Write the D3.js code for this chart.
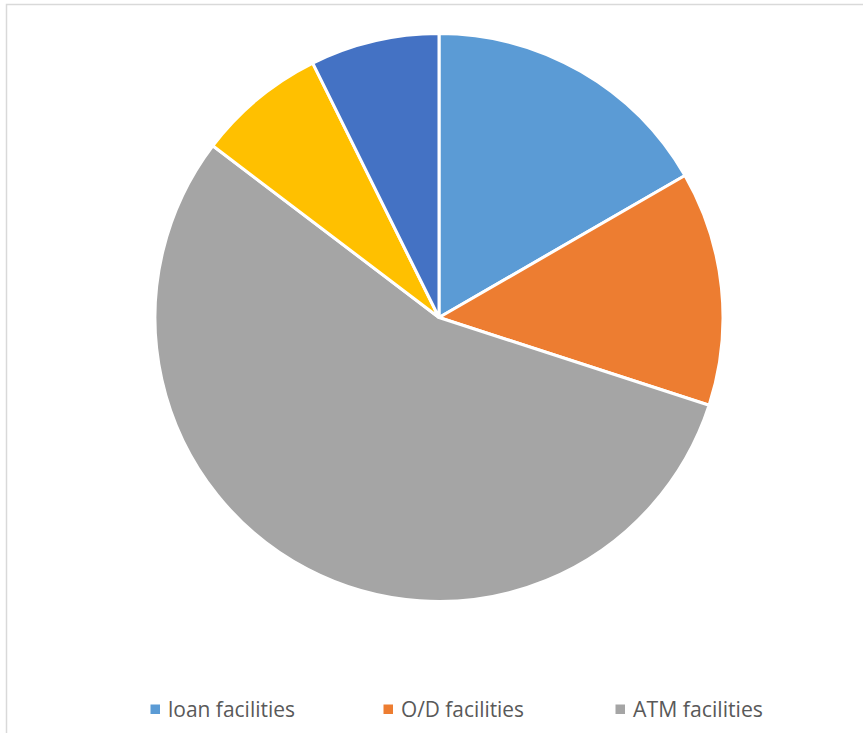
<!DOCTYPE html>
<html>
<head>
<meta charset="utf-8">
<script src="https://cdn.jsdelivr.net/npm/d3@7"></script>
<style>
  html, body { margin: 0; padding: 0; background: #fff; }
  svg { display: block; }
</style>
</head>
<body>
<svg id="chart" width="863" height="733"></svg>
<script>
// Slice values, clockwise from 12 o'clock
const sliceValues = [25, 20, 83, 11, 11];
const sliceColors = ["#5B9BD5", "#ED7D31", "#A5A5A5", "#FFC000", "#4472C4"];
// Legend entries that fit in the bottom row
const legendLabels = ["loan facilities", "O/D facilities", "ATM facilities"];
const legendX = [150.5, 383.5, 615.5];
const legendTextWidth = [127, 123, 130];

const svg = d3.select("#chart");

// chart area border
svg.append("rect")
  .attr("x", 6.5).attr("y", 4.5)
  .attr("width", 900).attr("height", 800)
  .attr("fill", "none")
  .attr("stroke", "#d9d9d9")
  .attr("stroke-width", 1.5);

const cx = 439, cy = 317.5, r = 284;

const pie = d3.pie().sort(null).value(d => d);
const arc = d3.arc().innerRadius(0).outerRadius(r);

svg.append("g")
  .attr("transform", `translate(${cx},${cy})`)
  .selectAll("path")
  .data(pie(sliceValues))
  .join("path")
  .attr("d", arc)
  .attr("fill", (d, i) => sliceColors[i])
  .attr("stroke", "#fff")
  .attr("stroke-width", 3)
  .attr("stroke-linejoin", "round");

const legend = svg.append("g");
legendLabels.forEach((label, i) => {
  legend.append("rect")
    .attr("x", legendX[i]).attr("y", 704.5)
    .attr("width", 9.5).attr("height", 9.5)
    .attr("fill", sliceColors[i]);
  legend.append("text")
    .attr("x", legendX[i] + 17.5).attr("y", 717)
    .attr("font-family", "'Liberation Sans Narrow', 'Open Sans', sans-serif")
    .attr("font-size", 22)
    .attr("fill", "#595959")
    .attr("textLength", legendTextWidth[i])
    .attr("lengthAdjust", "spacingAndGlyphs")
    .text(label);
});
</script>
</body>
</html>
